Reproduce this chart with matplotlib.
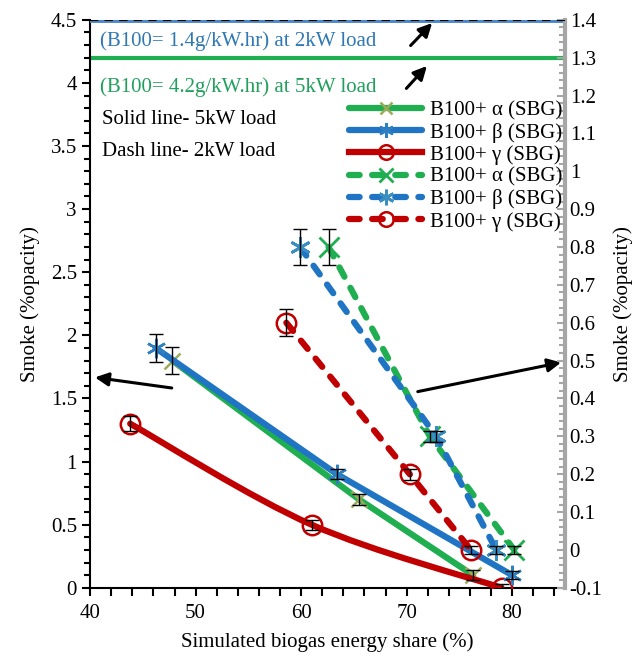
import numpy as np
import matplotlib.pyplot as plt
from matplotlib.ticker import MultipleLocator
from matplotlib.path import Path
from matplotlib.patches import PathPatch
from matplotlib.lines import Line2D

plt.rcParams['font.family'] = ['Liberation Serif', 'DejaVu Serif']
plt.rcParams['font.size'] = 15

# 5kW load (left axis), solid lines
x_a5 = [47.8, 65.5, 76.3]
y_a5 = [1.8, 0.7, 0.1]
e_a5 = [0.11, 0.04, 0.04]
x_b5 = [46.2, 63.4, 80.0]
y_b5 = [1.9, 0.9, 0.1]
e_b5 = [0.11, 0.04, 0.03]
x_g5 = [43.8, 61.0, 79.0]
y_g5 = [1.3, 0.5, 0.0]
e_g5 = [0.06, 0.04, 0.03]

# 2kW load (right axis), dashed lines
x_a2 = [62.6, 72.2, 80.2]
y_a2 = [0.8, 0.3, 0.0]
e_a2 = [0.048, 0.015, 0.01]
x_b2 = [59.9, 72.8, 78.5]
y_b2 = [0.8, 0.3, 0.0]
e_b2 = [0.048, 0.015, 0.01]
x_g2 = [58.6, 70.3, 76.1]
y_g2 = [0.6, 0.2, 0.0]
e_g2 = [0.035, 0.015, 0.01]

b100_5kw = 4.2
b100_2kw = 1.4

green = '#1fae50'
blue = '#1f74c4'
red = '#c00000'
asterisk = (6, 2, 0)


# smoothed line like excel (bezier through the points)
def smooth_path(xs, ys):
    p = np.column_stack([xs, ys])
    verts = [p[0]]
    codes = [Path.MOVETO]
    for i in range(len(p) - 1):
        p0 = p[i - 1] if i > 0 else p[i]
        p3 = p[i + 2] if i + 2 < len(p) else p[i + 1]
        c1 = p[i] + (p[i + 1] - p0) / 6
        c2 = p[i + 1] - (p3 - p[i]) / 6
        verts += [c1, c2, p[i + 1]]
        codes += [Path.CURVE4] * 3
    return Path(verts, codes)


fig = plt.figure(figsize=(6.39, 6.59), dpi=100)
ax = fig.add_axes([0.141, 0.108, 0.743, 0.862])
ax2 = ax.twinx()

# reference lines for B100
ax.axhline(b100_5kw, color=green, lw=3, zorder=2)
ax2.axhline(b100_2kw, color='#4a86c8', lw=3.5, zorder=2)
ax2.axhline(b100_2kw, color='black', lw=1.5, ls=(0, (4, 3)), zorder=3)

lw = 4.5
ax.plot(x_a5, y_a5, color=green, lw=lw, marker='x', ms=12, mec='#9cab5a', mew=1.8,
        label='B100+ α (SBG)', zorder=4, solid_capstyle='round')
ax.plot(x_b5, y_b5, color=blue, lw=lw, marker=asterisk, ms=14, mec='#2e80c0', mew=1.8,
        label='B100+ β (SBG)', zorder=5, solid_capstyle='round')
ax.add_patch(PathPatch(smooth_path(x_g5, y_g5), fc='none', ec=red, lw=lw,
                       capstyle='round', zorder=4))
ax.plot(x_g5, y_g5, ls='none', marker='o', ms=14, mfc='none', mec=red, mew=1.8, zorder=4)
for xs, ys, es in [(x_a5, y_a5, e_a5), (x_b5, y_b5, e_b5), (x_g5, y_g5, e_g5)]:
    ax.errorbar(xs, ys, yerr=es, fmt='none', ecolor='black', elinewidth=1, capsize=5, zorder=6)

dash = (0, (1.7, 2.0))
ax2.plot(x_a2, y_a2, color=green, lw=lw, ls=dash, dash_capstyle='round', marker='x', ms=14,
         mec=green, mew=2, label='B100+ α (SBG)', zorder=4)
ax2.plot(x_b2, y_b2, color=blue, lw=lw, ls=dash, dash_capstyle='round', marker=asterisk, ms=15,
         mec='#3b8fc0', mew=2, label='B100+ β (SBG)', zorder=5)
ax2.plot(x_g2, y_g2, color=red, lw=lw, ls=dash, dash_capstyle='round', marker='o', ms=14,
         mfc='none', mec=red, mew=1.8, label='B100+ γ (SBG)', zorder=4)
for xs, ys, es in [(x_a2, y_a2, e_a2), (x_b2, y_b2, e_b2), (x_g2, y_g2, e_g2)]:
    ax2.errorbar(xs, ys, yerr=es, fmt='none', ecolor='black', elinewidth=1, capsize=5, zorder=6)

ax.set_xlim(40, 85)
ax.set_ylim(0, 4.5)
ax2.set_ylim(-0.1, 1.4)

ax.xaxis.set_major_locator(MultipleLocator(10))
ax.xaxis.set_minor_locator(MultipleLocator(2))
ax.yaxis.set_minor_locator(MultipleLocator(0.1))
ax.set_yticks(np.arange(0, 4.51, 0.5))
ax.set_yticklabels(['0', '0.5', '1', '1.5', '2', '2.5', '3', '3.5', '4', '4.5'])
ax2.yaxis.set_minor_locator(MultipleLocator(0.02))
r_ticks = np.round(np.arange(-0.1, 1.41, 0.1), 1)
ax2.set_yticks(r_ticks)
ax2.set_yticklabels([f'{t:g}' if abs(t) > 1e-9 else '0' for t in r_ticks])

ax.tick_params(axis='both', which='both', direction='out', width=1.5, labelsize=15)
ax.tick_params(axis='both', which='major', length=6)
ax.tick_params(axis='x', which='minor', length=6)
ax.tick_params(axis='y', which='minor', length=4)
ax.tick_params(axis='x', which='major', pad=6)
ax2.tick_params(axis='y', which='both', direction='in', color='#a6a6a6', width=1.5, labelsize=15)
ax2.tick_params(axis='y', which='major', length=6)
ax2.tick_params(axis='y', which='minor', length=4)

for s in ['left', 'bottom']:
    ax.spines[s].set_linewidth(1.5)
ax.spines['top'].set_visible(False)
ax2.spines['top'].set_visible(False)
ax2.spines['left'].set_visible(False)
ax2.spines['bottom'].set_visible(False)
ax.spines['right'].set_visible(False)
ax2.spines['right'].set_color('#a6a6a6')
ax2.spines['right'].set_linewidth(3)

ax.set_xlabel('Simulated biogas energy share (%)', fontsize=15, labelpad=6)
ax.set_ylabel('Smoke (%opacity)', fontsize=15, labelpad=8)
ax2.set_ylabel('Smoke (%opacity)', fontsize=15, labelpad=8)

# annotations
ax.text(40.9, 4.33, '(B100= 1.4g/kW.hr) at 2kW load', color='#2f78b4', fontsize=15, va='center')
ax.text(40.9, 3.97, '(B100= 4.2g/kW.hr) at 5kW load', color='#21a05c', fontsize=15, va='center')
ax.text(41.1, 3.71, 'Solid line- 5kW load', fontsize=15, va='center')
ax.text(41.1, 3.46, 'Dash line- 2kW load', fontsize=15, va='center')

arrow = dict(arrowstyle='-|>', color='black', lw=2.2, mutation_scale=20)
ax.annotate('', xy=(72.6, 4.49), xytext=(70.2, 4.28), arrowprops=arrow, zorder=7)
ax.annotate('', xy=(72.1, 4.15), xytext=(69.8, 3.94), arrowprops=arrow, zorder=7)
ax.annotate('', xy=(40.2, 1.67), xytext=(48.0, 1.58), arrowprops=arrow, zorder=7)
ax.annotate('', xy=(84.9, 1.79), xytext=(70.8, 1.55), arrowprops=arrow, zorder=7)

h1, l1 = ax.get_legend_handles_labels()
h_red = Line2D([], [], color=red, lw=lw, marker='o', ms=14, mfc='none', mec=red, mew=1.8)
h2, l2 = ax2.get_legend_handles_labels()
ax2.legend(h1 + [h_red] + h2, l1 + ['B100+ γ (SBG)'] + l2, loc='upper right',
           bbox_to_anchor=(0.994, 0.858), frameon=False, borderpad=0,
           fontsize=15, handlelength=3.5, handletextpad=0.35, labelspacing=0.12,
           borderaxespad=0.0, markerscale=0.75)

fig.savefig('out.png', dpi=100)
